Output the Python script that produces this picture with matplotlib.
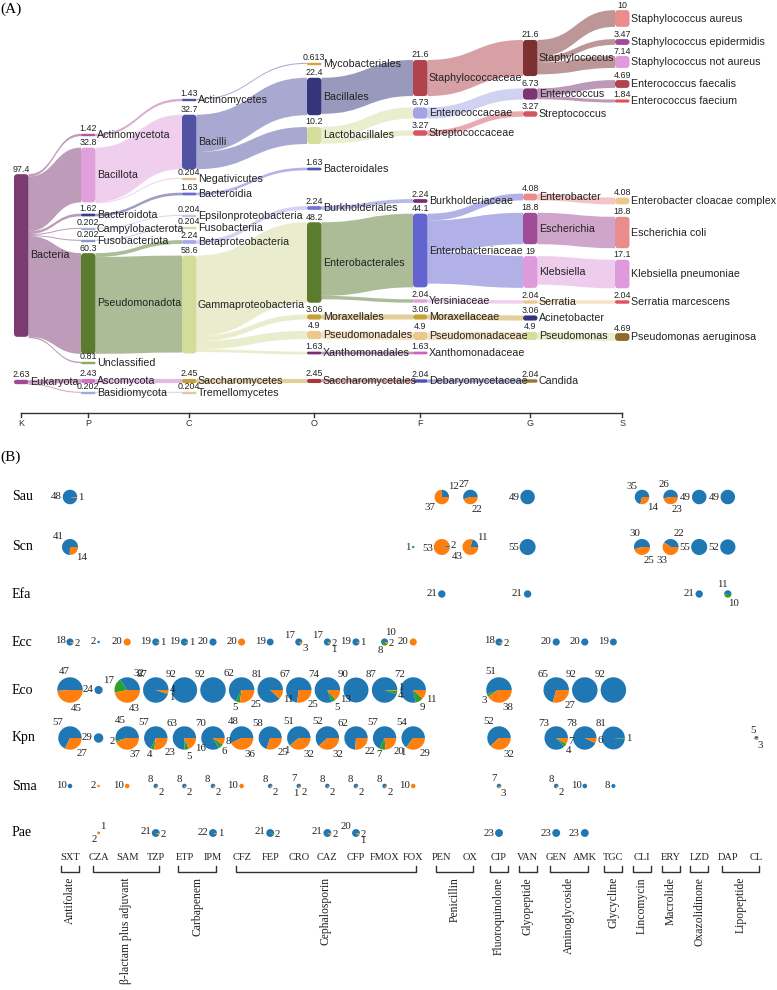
import matplotlib
matplotlib.use("Agg")
import matplotlib.pyplot as plt
import numpy as np
from matplotlib.path import Path
from matplotlib.patches import PathPatch, FancyBboxPatch, Wedge

# ---------------- panel A : taxonomy sankey ----------------
levels = ["K", "P", "C", "O", "F", "G", "S"]

kingdom = ["Bacteria", "Eukaryota"]
kingdom_val = [97.4, 2.63]
phylum = ["Actinomycetota", "Bacillota", "Bacteroidota", "Campylobacterota", "Fusobacteriota",
          "Pseudomonadota", "Unclassified", "Ascomycota", "Basidiomycota"]
phylum_val = [1.42, 32.8, 1.62, 0.202, 0.202, 60.3, 0.81, 2.43, 0.202]
klass = ["Actinomycetes", "Bacilli", "Negativicutes", "Bacteroidia", "Epsilonproteobacteria",
         "Fusobacteriia", "Betaproteobacteria", "Gammaproteobacteria", "Saccharomycetes", "Tremellomycetes"]
klass_val = [1.43, 32.7, 0.204, 1.63, 0.204, 0.204, 2.24, 58.6, 2.45, 0.204]
order = ["Mycobacteriales", "Bacillales", "Lactobacillales", "Bacteroidales", "Burkholderiales",
         "Enterobacterales", "Moraxellales", "Pseudomonadales", "Xanthomonadales", "Saccharomycetales"]
order_val = [0.613, 22.4, 10.2, 1.63, 2.24, 48.2, 3.06, 4.9, 1.63, 2.45]
family = ["Staphylococcaceae", "Enterococcaceae", "Streptococcaceae", "Burkholderiaceae", "Enterobacteriaceae",
          "Yersiniaceae", "Moraxellaceae", "Pseudomonadaceae", "Xanthomonadaceae", "Debaryomycetaceae"]
family_val = [21.6, 6.73, 3.27, 2.24, 44.1, 2.04, 3.06, 4.9, 1.63, 2.04]
genus = ["Staphylococcus", "Enterococcus", "Streptococcus", "Enterobacter", "Escherichia",
         "Klebsiella", "Serratia", "Acinetobacter", "Pseudomonas", "Candida"]
genus_val = [21.6, 6.73, 3.27, 4.08, 18.8, 19, 2.04, 3.06, 4.9, 2.04]
species = ["Staphylococcus aureus", "Staphylococcus epidermidis", "Staphylococcus not aureus",
           "Enterococcus faecalis", "Enterococcus faecium", "Enterobacter cloacae complex",
           "Escherichia coli", "Klebsiella pneumoniae", "Serratia marcescens", "Pseudomonas aeruginosa"]
species_val = [10, 3.47, 7.14, 4.69, 1.84, 4.08, 18.8, 17.1, 2.04, 4.69]

links = [
    ("Bacteria", "Actinomycetota", 1.42), ("Bacteria", "Bacillota", 32.8), ("Bacteria", "Bacteroidota", 1.62),
    ("Bacteria", "Campylobacterota", 0.202), ("Bacteria", "Fusobacteriota", 0.202),
    ("Bacteria", "Pseudomonadota", 60.3), ("Bacteria", "Unclassified", 0.81),
    ("Eukaryota", "Ascomycota", 2.43), ("Eukaryota", "Basidiomycota", 0.202),
    ("Actinomycetota", "Actinomycetes", 1.42), ("Bacillota", "Bacilli", 32.6),
    ("Bacillota", "Negativicutes", 0.204), ("Bacteroidota", "Bacteroidia", 1.62),
    ("Campylobacterota", "Epsilonproteobacteria", 0.202), ("Fusobacteriota", "Fusobacteriia", 0.202),
    ("Pseudomonadota", "Betaproteobacteria", 2.24), ("Pseudomonadota", "Gammaproteobacteria", 58.06),
    ("Ascomycota", "Saccharomycetes", 2.43), ("Basidiomycota", "Tremellomycetes", 0.202),
    ("Actinomycetes", "Mycobacteriales", 0.613), ("Bacilli", "Bacillales", 22.4),
    ("Bacilli", "Lactobacillales", 10.2), ("Bacteroidia", "Bacteroidales", 1.63),
    ("Betaproteobacteria", "Burkholderiales", 2.24), ("Gammaproteobacteria", "Enterobacterales", 48.2),
    ("Gammaproteobacteria", "Moraxellales", 3.06), ("Gammaproteobacteria", "Pseudomonadales", 4.9),
    ("Gammaproteobacteria", "Xanthomonadales", 1.63), ("Saccharomycetes", "Saccharomycetales", 2.45),
    ("Bacillales", "Staphylococcaceae", 21.6), ("Lactobacillales", "Enterococcaceae", 6.73),
    ("Lactobacillales", "Streptococcaceae", 3.27), ("Burkholderiales", "Burkholderiaceae", 2.24),
    ("Enterobacterales", "Enterobacteriaceae", 44.1), ("Enterobacterales", "Yersiniaceae", 2.04),
    ("Moraxellales", "Moraxellaceae", 3.06), ("Pseudomonadales", "Pseudomonadaceae", 4.9),
    ("Xanthomonadales", "Xanthomonadaceae", 1.63), ("Saccharomycetales", "Debaryomycetaceae", 2.04),
    ("Staphylococcaceae", "Staphylococcus", 21.6), ("Enterococcaceae", "Enterococcus", 6.73),
    ("Streptococcaceae", "Streptococcus", 3.27), ("Enterobacteriaceae", "Enterobacter", 4.08),
    ("Enterobacteriaceae", "Escherichia", 18.8), ("Enterobacteriaceae", "Klebsiella", 19),
    ("Yersiniaceae", "Serratia", 2.04), ("Moraxellaceae", "Acinetobacter", 3.06),
    ("Pseudomonadaceae", "Pseudomonas", 4.9), ("Debaryomycetaceae", "Candida", 2.04),
    ("Staphylococcus", "Staphylococcus aureus", 10), ("Staphylococcus", "Staphylococcus epidermidis", 3.47),
    ("Staphylococcus", "Staphylococcus not aureus", 7.14), ("Enterococcus", "Enterococcus faecalis", 4.69),
    ("Enterococcus", "Enterococcus faecium", 1.84), ("Enterobacter", "Enterobacter cloacae complex", 4.08),
    ("Escherichia", "Escherichia coli", 18.8), ("Klebsiella", "Klebsiella pneumoniae", 17.1),
    ("Serratia", "Serratia marcescens", 2.04), ("Pseudomonas", "Pseudomonas aeruginosa", 4.69),
]

# layout of the sankey (pixel space): node centres and column left edges
col_x = [14, 81, 182, 307, 413, 523, 615]
node_y = {
    "Bacteria": 255.5, "Eukaryota": 382,
    "Actinomycetota": 135, "Bacillota": 175, "Bacteroidota": 215, "Campylobacterota": 229,
    "Fusobacteriota": 241, "Pseudomonadota": 303.5, "Unclassified": 363, "Ascomycota": 381, "Basidiomycota": 393,
    "Actinomycetes": 100, "Bacilli": 142, "Negativicutes": 179, "Bacteroidia": 194, "Epsilonproteobacteria": 216,
    "Fusobacteriia": 228, "Betaproteobacteria": 242, "Gammaproteobacteria": 304.5, "Saccharomycetes": 381,
    "Tremellomycetes": 393,
    "Mycobacteriales": 64, "Bacillales": 96.5, "Lactobacillales": 135.5, "Bacteroidales": 169,
    "Burkholderiales": 208, "Enterobacterales": 262.5, "Moraxellales": 317, "Pseudomonadales": 335,
    "Xanthomonadales": 353, "Saccharomycetales": 381,
    "Staphylococcaceae": 78, "Enterococcaceae": 113, "Streptococcaceae": 133, "Burkholderiaceae": 201,
    "Enterobacteriaceae": 250.5, "Yersiniaceae": 301, "Moraxellaceae": 317, "Pseudomonadaceae": 336,
    "Xanthomonadaceae": 353, "Debaryomycetaceae": 381,
    "Staphylococcus": 58, "Enterococcus": 94, "Streptococcus": 114, "Enterobacter": 197, "Escherichia": 228.5,
    "Klebsiella": 272, "Serratia": 302, "Acinetobacter": 318, "Pseudomonas": 336, "Candida": 381,
    "Staphylococcus aureus": 18.5, "Staphylococcus epidermidis": 42, "Staphylococcus not aureus": 62,
    "Enterococcus faecalis": 84, "Enterococcus faecium": 101, "Enterobacter cloacae complex": 201,
    "Escherichia coli": 232.5, "Klebsiella pneumoniae": 274, "Serratia marcescens": 302,
    "Pseudomonas aeruginosa": 337,
}
node_color = {
    "Bacteria": "#7b3a72", "Eukaryota": "#a04a94",
    "Actinomycetota": "#b05aa0", "Bacillota": "#e0a0dc", "Bacteroidota": "#3c3c8c", "Campylobacterota": "#a8b0d8",
    "Fusobacteriota": "#8898c0", "Pseudomonadota": "#5b7b2f", "Unclassified": "#8fab5a", "Ascomycota": "#d070c8",
    "Basidiomycota": "#a0a8e0",
    "Actinomycetes": "#5050a8", "Bacilli": "#5252a4", "Negativicutes": "#e0c090", "Bacteroidia": "#6a6ad4",
    "Epsilonproteobacteria": "#c0c8e0", "Fusobacteriia": "#d8d8a0", "Betaproteobacteria": "#a8a8e8",
    "Gammaproteobacteria": "#d4dc9c", "Saccharomycetes": "#c8a038", "Tremellomycetes": "#e0c8a0",
    "Mycobacteriales": "#e0a040", "Bacillales": "#35357d", "Lactobacillales": "#d6de9e", "Bacteroidales": "#5454b0",
    "Burkholderiales": "#7474d4", "Enterobacterales": "#5b7b2f", "Moraxellales": "#c8a038",
    "Pseudomonadales": "#ecc88c", "Xanthomonadales": "#7c2c74", "Saccharomycetales": "#a83838",
    "Staphylococcaceae": "#b0434c", "Enterococcaceae": "#a4a4e4", "Streptococcaceae": "#d45462",
    "Burkholderiaceae": "#7c2c74", "Enterobacteriaceae": "#6464d0", "Yersiniaceae": "#e0a0dc",
    "Moraxellaceae": "#c8a038", "Pseudomonadaceae": "#ecc88c", "Xanthomonadaceae": "#d060c0",
    "Debaryomycetaceae": "#5050b0",
    "Staphylococcus": "#7c3030", "Enterococcus": "#7c3474", "Streptococcus": "#d45462", "Enterobacter": "#e88c8c",
    "Escherichia": "#a04c98", "Klebsiella": "#de9ada", "Serratia": "#ecc88c", "Acinetobacter": "#35357d",
    "Pseudomonas": "#d6de9e", "Candida": "#9c7430",
    "Staphylococcus aureus": "#e88c8c", "Staphylococcus epidermidis": "#a04c98",
    "Staphylococcus not aureus": "#de9ada", "Enterococcus faecalis": "#b0434c", "Enterococcus faecium": "#e05050",
    "Enterobacter cloacae complex": "#ecc88c", "Escherichia coli": "#e88c8c", "Klebsiella pneumoniae": "#de9ada",
    "Serratia marcescens": "#e05060", "Pseudomonas aeruginosa": "#8c6a2c",
}

# ---------------- panel B : antibiotic susceptibility pies ----------------
organisms = ["Sau", "Scn", "Efa", "Ecc", "Eco", "Kpn", "Sma", "Pae"]
drugs = ["SXT", "CZA", "SAM", "TZP", "ETP", "IPM", "CFZ", "FEP", "CRO", "CAZ", "CFP", "FMOX", "FOX",
         "PEN", "OX", "CIP", "VAN", "GEN", "AMK", "TGC", "CLI", "ERY", "LZD", "DAP", "CL"]
drug_groups = [
    ("Antifolate", ["SXT"]),
    ("β-lactam plus adjuvant", ["CZA", "SAM", "TZP"]),
    ("Carbapenem", ["ETP", "IPM"]),
    ("Cephalosporin", ["CFZ", "FEP", "CRO", "CAZ", "CFP", "FMOX", "FOX"]),
    ("Penicillin", ["PEN", "OX"]),
    ("Fluoroquinolone", ["CIP"]),
    ("Glyopeptide", ["VAN"]),
    ("Aminoglycoside", ["GEN", "AMK"]),
    ("Glycycline", ["TGC"]),
    ("Lincomycin", ["CLI"]),
    ("Macrolide", ["ERY"]),
    ("Oxazolidinone", ["LZD"]),
    ("Lipopeptide", ["DAP", "CL"]),
]
# counts per drug: (susceptible, intermediate, resistant)
sau = {"SXT": (48, 0, 1), "PEN": (12, 0, 37), "OX": (27, 0, 22), "VAN": (49, 0, 0),
       "CLI": (35, 0, 14), "ERY": (26, 0, 23), "LZD": (49, 0, 0), "DAP": (49, 0, 0)}
scn = {"SXT": (41, 0, 14), "FOX": (1, 0, 0), "PEN": (2, 0, 53), "OX": (11, 0, 43), "VAN": (55, 0, 0),
       "CLI": (30, 0, 25), "ERY": (22, 0, 33), "LZD": (55, 0, 0), "DAP": (52, 0, 0)}
efa = {"PEN": (21, 0, 0), "VAN": (21, 0, 0), "LZD": (21, 0, 0), "DAP": (11, 10, 0)}
ecc = {"SXT": (18, 0, 2), "CZA": (2, 0, 0), "SAM": (0, 0, 20), "TZP": (19, 0, 1), "ETP": (19, 0, 1),
       "IPM": (20, 0, 0), "CFZ": (0, 0, 20), "FEP": (19, 0, 0), "CRO": (17, 0, 3), "CAZ": (17, 1, 2),
       "CFP": (19, 0, 1), "FMOX": (10, 8, 2), "FOX": (0, 0, 20), "CIP": (18, 0, 2), "GEN": (20, 0, 0),
       "AMK": (20, 0, 0), "TGC": (19, 0, 0)}
eco = {"SXT": (47, 0, 45), "CZA": (24, 0, 0), "SAM": (32, 17, 43), "TZP": (87, 1, 4), "ETP": (92, 0, 0),
       "IPM": (92, 0, 0), "CFZ": (62, 5, 25), "FEP": (81, 0, 11), "CRO": (67, 0, 25), "CAZ": (74, 5, 13),
       "CFP": (90, 0, 0), "FMOX": (87, 4, 1), "FOX": (72, 9, 11), "CIP": (51, 3, 38), "GEN": (65, 0, 27),
       "AMK": (92, 0, 0), "TGC": (92, 0, 0)}
kpn = {"SXT": (57, 0, 27), "CZA": (29, 0, 0), "SAM": (45, 2, 37), "TZP": (57, 4, 23), "ETP": (63, 5, 16),
       "IPM": (70, 6, 8), "CFZ": (48, 0, 36), "FEP": (58, 0, 25), "CRO": (51, 1, 32), "CAZ": (52, 0, 32),
       "CFP": (62, 0, 22), "FMOX": (57, 7, 20), "FOX": (54, 1, 29), "CIP": (52, 0, 32), "GEN": (73, 4, 7),
       "AMK": (78, 0, 6), "TGC": (81, 1, 0), "CL": (5, 0, 3)}
sma = {"SXT": (10, 0, 0), "CZA": (0, 0, 2), "SAM": (0, 0, 10), "TZP": (8, 0, 2), "ETP": (8, 0, 2),
       "IPM": (8, 0, 2), "CFZ": (0, 0, 10), "FEP": (8, 0, 2), "CRO": (7, 1, 2), "CAZ": (8, 0, 2),
       "CFP": (8, 0, 2), "FMOX": (8, 0, 2), "FOX": (0, 0, 10), "CIP": (7, 0, 3), "GEN": (8, 0, 2),
       "AMK": (10, 0, 0), "TGC": (8, 0, 0)}
pae = {"CZA": (1, 0, 2), "TZP": (21, 0, 2), "IPM": (22, 0, 1), "FEP": (21, 2, 0), "CAZ": (21, 0, 2),
       "CFP": (20, 1, 2), "CIP": (23, 0, 0), "GEN": (23, 0, 0), "AMK": (23, 0, 0)}
susceptibility = [sau, scn, efa, ecc, eco, kpn, sma, pae]
pie_colors = ["#1f77b4", "#2ca02c", "#ff7f0e"]

sans = "Liberation Sans"
serif = "Liberation Serif"

fig = plt.figure(figsize=(7.77, 9.90), dpi=100)
ax = fig.add_axes([0, 0, 1, 1])
ax.set_xlim(0, 777)
ax.set_ylim(990, 0)
ax.axis("off")

# ---- sankey ----
scale = 1.67
node_w = 14.5
level_nodes = [kingdom, phylum, klass, order, family, genus, species]
level_vals = [kingdom_val, phylum_val, klass_val, order_val, family_val, genus_val, species_val]
node_col = {}
node_val = {}
for li, (names, vals) in enumerate(zip(level_nodes, level_vals)):
    for n, v in zip(names, vals):
        node_col[n] = li
        node_val[n] = v


def node_top(n):
    return node_y[n] - max(node_val[n] * scale, 2.4) / 2


out_off = {n: 0.0 for n in node_val}
in_off = {n: 0.0 for n in node_val}
# outgoing links stacked by target position, incoming by source position
out_order = sorted(links, key=lambda l: node_y[l[1]])
in_order = sorted(links, key=lambda l: node_y[l[0]])
src_pos = {}
for s, t, v in out_order:
    th = max(v * scale, 1.0)
    y0 = node_top(s) + out_off[s]
    src_pos[(s, t)] = (y0, y0 + th)
    out_off[s] += th
for s, t, v in in_order:
    th = max(v * scale, 1.0)
    y0 = node_top(t) + in_off[t]
    in_off[t] += th
    sy0, sy1 = src_pos[(s, t)]
    x0 = col_x[node_col[s]] + node_w
    x1 = col_x[node_col[t]]
    xm = (x0 + x1) / 2
    verts = [(x0, sy0), (xm, sy0), (xm, y0), (x1, y0),
             (x1, y0 + th), (xm, y0 + th), (xm, sy1), (x0, sy1), (x0, sy0)]
    codes = [Path.MOVETO, Path.CURVE4, Path.CURVE4, Path.CURVE4,
             Path.LINETO, Path.CURVE4, Path.CURVE4, Path.CURVE4, Path.CLOSEPOLY]
    ax.add_patch(PathPatch(Path(verts, codes), facecolor=node_color[s], edgecolor="none",
                           alpha=0.5, zorder=1))

for n, v in node_val.items():
    h = max(v * scale, 2.4)
    x = col_x[node_col[n]]
    top = node_top(n)
    ax.add_patch(FancyBboxPatch((x, top), node_w, h,
                                boxstyle=f"round,pad=0,rounding_size={min(3.5, h / 2)}",
                                facecolor=node_color[n], edgecolor="none", zorder=2))
    ax.text(x + node_w / 2, top - 0.5, f"{v:g}", ha="center", va="bottom",
            fontsize=6.4, family=sans, color="#222222", zorder=3)
    ax.text(x + node_w + 1.2, node_y[n], n, ha="left", va="center",
            fontsize=7.7, family=sans, color="#222222", zorder=3)

# taxonomy axis
tick_x = [c + node_w / 2 for c in col_x]
ax.plot([tick_x[0], tick_x[-1]], [413, 413], color="#333333", lw=1)
for x, lab in zip(tick_x, levels):
    ax.plot([x, x], [413, 417], color="#333333", lw=1)
    ax.text(x, 419, lab, ha="center", va="top", fontsize=6.5, family=sans, color="#333333")

ax.text(0, 9, "(A)", ha="left", va="center", fontsize=11, family=serif)
ax.text(0, 457, "(B)", ha="left", va="center", fontsize=11, family=serif)

# ---- pies ----
row_y = [497, 547, 594, 642, 690, 738, 786, 833]
drug_x = {d: 70 + 28.6 * i for i, d in enumerate(drugs)}

for org, yy, table in zip(organisms, row_y, susceptibility):
    ax.text(12, yy, org, ha="left", va="center", fontsize=10, family=serif)
    for d, counts in table.items():
        cx = drug_x[d]
        total = sum(counts)
        r = (2 + 0.255 * total) / 2
        start = 0.0
        placed = []
        for k, (n, col) in enumerate(zip(counts, pie_colors)):
            if n == 0:
                continue
            span = 360.0 * n / total
            ax.add_patch(Wedge((cx, yy), r, -(start + span), -start, facecolor=col,
                               edgecolor="none", zorder=2))
            mid = start + span / 2
            if k == 0 and mid > 125 and r > 9:
                mid = 125
            a = np.radians(mid)
            dx, dy = np.cos(a), np.sin(a)
            ha = "left" if dx >= 0 else "right"
            va = "bottom" if dy > 0.35 else ("top" if dy < -0.35 else "center")
            tx, ty = cx + (r + 1) * dx, yy - (r + 1) * dy
            txt = ax.text(tx, ty, str(n), ha=ha, va=va,
                          fontsize=7.8, family=serif, color="#222222", zorder=3)
            # keep small neighbouring labels apart
            for other in placed:
                ox, oy = other.get_position()
                if other.get_ha() == ha and other.get_va() == va and abs(oy - ty) < 8:
                    gap = 8 - abs(oy - ty)
                    if ty <= oy:
                        txt.set_y(ty - gap / 2)
                        other.set_y(oy + gap / 2)
                    else:
                        txt.set_y(ty + gap / 2)
                        other.set_y(oy - gap / 2)
            placed.append(txt)
            start += span

for d, x in drug_x.items():
    ax.text(x, 857, d, ha="center", va="center", fontsize=7.5, family=serif, color="#222222")

for name, members in drug_groups:
    x0, x1 = drug_x[members[0]], drug_x[members[-1]]
    if len(members) == 1:
        x0, x1 = x0 - 9, x1 + 9
    else:
        x0, x1 = x0 - 6, x1 + 3
    ax.plot([x0, x0, x1, x1], [866, 872, 872, 866], color="#333333", lw=1)
    ax.text((x0 + x1) / 2, 877, name, rotation=90, ha="center", va="top",
            fontsize=8.4, family=serif, color="#222222")

fig.savefig("out.png", dpi=100)
